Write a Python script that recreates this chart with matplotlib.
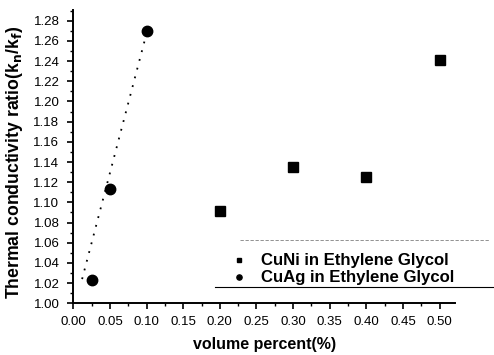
import matplotlib
matplotlib.use("Agg")
import matplotlib.pyplot as plt
from matplotlib.ticker import MultipleLocator, FormatStrFormatter
from matplotlib.lines import Line2D

plt.rcParams['font.family'] = ['Liberation Sans', 'DejaVu Sans']

# Data
cuni_x = [0.2, 0.3, 0.4, 0.5]
cuni_y = [1.091, 1.135, 1.125, 1.241]
cuag_x = [0.025, 0.05, 0.1]
cuag_y = [1.023, 1.113, 1.270]
fit_x = [0.012, 0.098]
fit_y = [1.024, 1.262]

fig = plt.figure(figsize=(4.94, 3.55), dpi=100)
ax = fig.add_axes([0.1484, 0.1456, 0.921 - 0.1484, 0.9718 - 0.1456])

ax.plot(fit_x, fit_y, color='black', linestyle=(0, (1, 4)), linewidth=1.3)
ax.plot(cuni_x, cuni_y, linestyle='none', marker='s', markersize=6.5,
        color='black', label='CuNi in Ethylene Glycol')
ax.plot(cuag_x, cuag_y, linestyle='none', marker='o', markersize=7.5,
        color='black', label='CuAg in Ethylene Glycol')

ax.set_xlim(0, 0.521)
ax.set_ylim(1.00, 1.2906)
ax.xaxis.set_major_locator(MultipleLocator(0.05))
ax.xaxis.set_minor_locator(MultipleLocator(0.025))
ax.yaxis.set_major_locator(MultipleLocator(0.02))
ax.yaxis.set_minor_locator(MultipleLocator(0.01))
ax.xaxis.set_major_formatter(FormatStrFormatter('%.2f'))
ax.yaxis.set_major_formatter(FormatStrFormatter('%.2f'))

for s in ['top', 'right']:
    ax.spines[s].set_visible(False)
for s in ['left', 'bottom']:
    ax.spines[s].set_linewidth(1.4)

ax.tick_params(which='major', direction='out', length=4, width=1.2, labelsize=9.5)
ax.tick_params(axis='x', which='major', pad=5)
ax.tick_params(axis='y', which='major', pad=6)
ax.tick_params(which='minor', direction='out', length=2, width=1.0)

ax.set_xlabel('volume percent(%)', fontsize=11.5, fontweight='bold', va='center')
ax.xaxis.set_label_coords(0.5, -0.142)
ax.set_ylabel('Thermal conductivity ratio(k$_\\mathbf{n}$/k$_\\mathbf{f}$)', fontsize=12.7,
              fontweight='bold', va='center')
ax.yaxis.set_label_coords(-0.153, 0.48)

leg = ax.legend(loc='upper left', bbox_to_anchor=(222 / 494, 1 - 245 / 355),
                bbox_transform=fig.transFigure, frameon=False,
                prop={'size': 12.1, 'weight': 'bold'}, labelspacing=0.12,
                handlelength=1.0, handletextpad=0.8, borderpad=0.0,
                markerscale=0.5)

fig.add_artist(Line2D([240 / 494, 490 / 494], [1 - 240 / 355, 1 - 240 / 355],
                      transform=fig.transFigure, color='gray', linewidth=0.6,
                      linestyle=(0, (4, 2))))
fig.add_artist(Line2D([215 / 494, 494 / 494], [1 - 287 / 355, 1 - 287 / 355],
                      transform=fig.transFigure, color='black', linewidth=0.8))

fig.savefig('out.png', dpi=100)
